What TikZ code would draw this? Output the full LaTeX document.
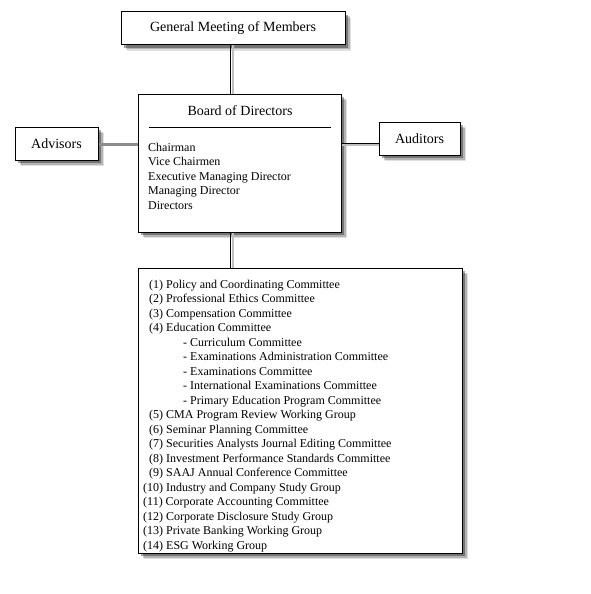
\documentclass[tikz,border=0pt]{standalone}
\usepackage{fontspec}
\setmainfont{Liberation Serif}
\usetikzlibrary{shadows}

\begin{document}
\begin{tikzpicture}[
x=1pt, y=-1pt,
orgbox/.style={rectangle, draw=black, fill=white, line width=1pt, inner sep=0pt,
  drop shadow={shadow xshift=6pt, shadow yshift=-6pt, fill=black, opacity=.12},
  drop shadow={shadow xshift=4.5pt, shadow yshift=-4.5pt, fill=black, opacity=.2},
  drop shadow={shadow xshift=3pt, shadow yshift=-3pt, fill=black, opacity=.35}},
boxtext/.style={font=\fontsize{14}{16}\selectfont},
listtext/.style={align=left, inner sep=0pt, font=\fontsize{12}{14.5}\selectfont},
link/.style={draw=black, line width=1pt},
linkshadow/.style={draw=black!25, line width=2pt}
]
\useasboundingbox (0,0) rectangle (591,594);
\coordinate (spine) at (230,0);

\node[orgbox, boxtext, minimum width=224pt, minimum height=33pt] (gm) at (233,28.5) {General Meeting of Members};
\node[orgbox, minimum width=203pt, minimum height=138pt] (board) at (239.5,163) {};
\node[orgbox, boxtext, minimum width=83pt, minimum height=33pt] (adv) at (56.5,143.5) {Advisors};
\node[orgbox, boxtext, minimum width=81pt, minimum height=33pt] (aud) at (419.5,138.5) {Auditors};
\node[orgbox, minimum width=324pt, minimum height=285pt] (comm) at (300,410.5) {};

% board contents
\node[boxtext] (boardtitle) at (240,111) {Board of Directors};
\draw (149,127) -- (331,127);
\node[listtext, anchor=north west] (boardlist) at (148,142.5) {Chairman\\Vice Chairmen\\Executive Managing Director\\Managing Director\\Directors};

% committees
\node[listtext, anchor=north west] (commlist) at (143,279.5) {%
\hphantom{0}(1) Policy and Coordinating Committee\\
\hphantom{0}(2) Professional Ethics Committee\\
\hphantom{0}(3) Compensation Committee\\
\hphantom{0}(4) Education Committee\\
\hspace{40pt}- Curriculum Committee\\
\hspace{40pt}- Examinations Administration Committee\\
\hspace{40pt}- Examinations Committee\\
\hspace{40pt}- International Examinations Committee\\
\hspace{40pt}- Primary Education Program Committee\\
\hphantom{0}(5) CMA Program Review Working Group\\
\hphantom{0}(6) Seminar Planning Committee\\
\hphantom{0}(7) Securities Analysts Journal Editing Committee\\
\hphantom{0}(8) Investment Performance Standards Committee\\
\hphantom{0}(9) SAAJ Annual Conference Committee\\
(10) Industry and Company Study Group\\
(11) Corporate Accounting Committee\\
(12) Corporate Disclosure Study Group\\
(13) Private Banking Working Group\\
(14) ESG Working Group};

% connectors
\draw[linkshadow] ([xshift=3pt]gm.south -| spine) -- ([xshift=3pt]board.north -| spine);
\draw[link] (gm.south -| spine) -- (board.north -| spine);
\draw[linkshadow] ([xshift=3pt]board.south -| spine) -- ([xshift=3pt]comm.north -| spine);
\draw[link] (board.south -| spine) -- (comm.north -| spine);
\draw[draw=black!45, line width=3pt] (adv.east |- 0,144.5) -- (board.west |- 0,144.5);
\draw[linkshadow] (board.east |- 0,145) -- (aud.west |- 0,145);
\draw[link] (board.east |- 0,143) -- (aud.west |- 0,143);
\end{tikzpicture}
\end{document}
